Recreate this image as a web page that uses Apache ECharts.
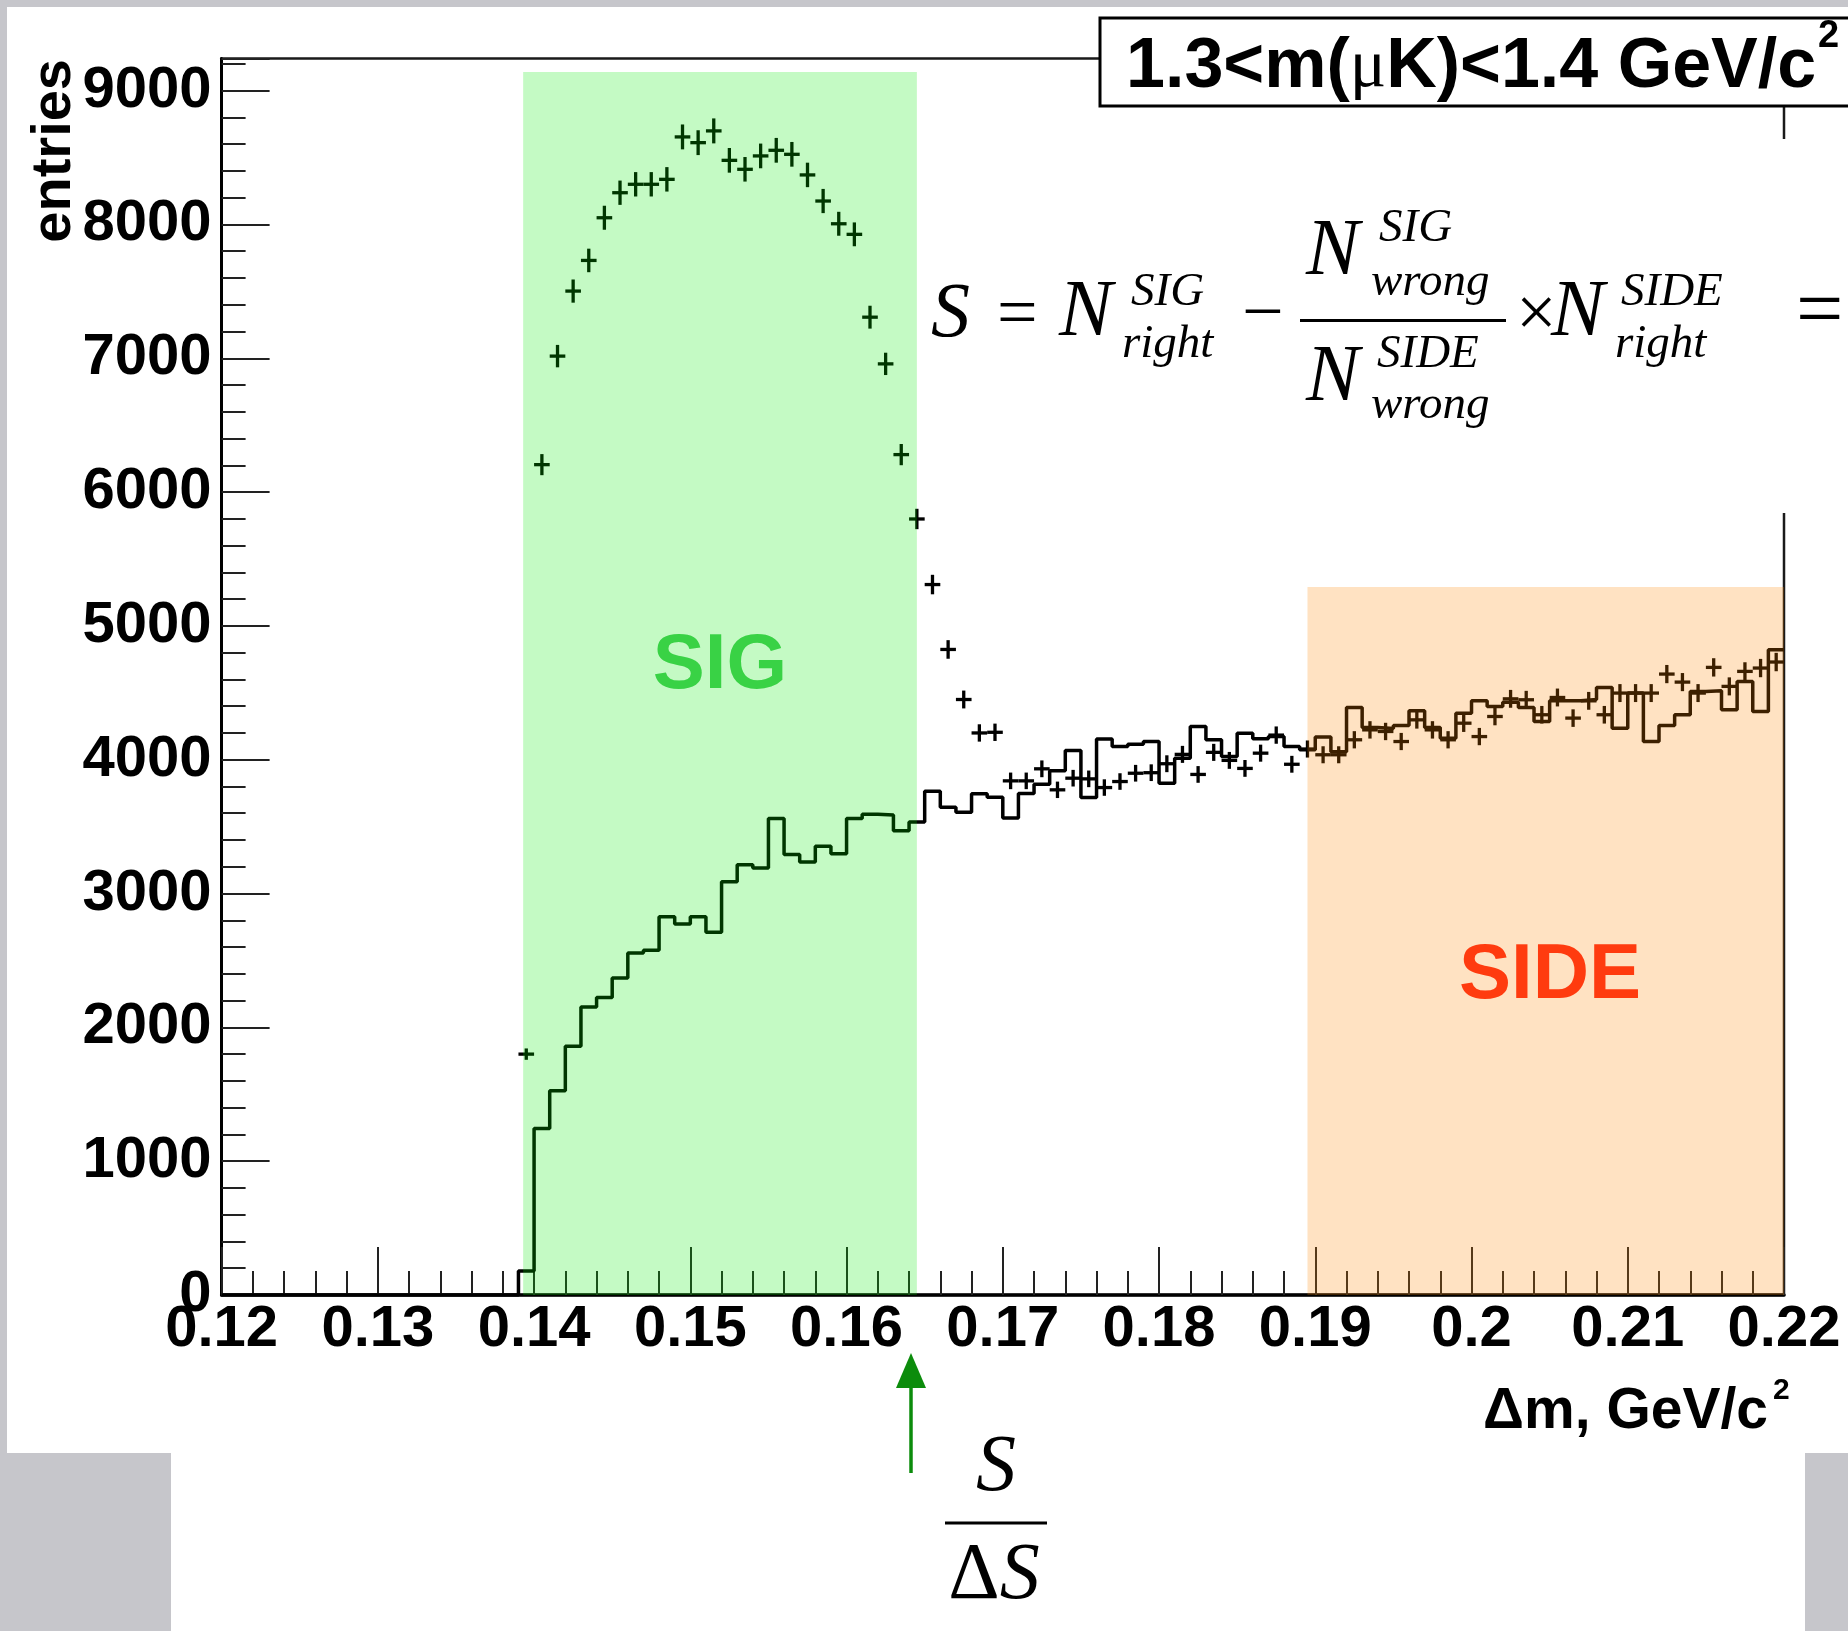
<!DOCTYPE html>
<html>
<head>
<meta charset="utf-8">
<script src="https://cdn.jsdelivr.net/npm/echarts@6/dist/echarts.min.js"></script>
<style>
  html, body { margin: 0; padding: 0; background: #ffffff; }
  #chart { width: 1848px; height: 1631px; }
</style>
</head>
<body>
<div id="chart"></div>
<script>
// Δm histogram binning: 100 bins of 1 MeV between 0.12 and 0.22 GeV/c²
const xMin = 0.12;
const xMax = 0.22;
const binWidth = 0.001;
const yMax = 9240;
const xTickStep = 0.01;
const yTickStep = 1000;
const yMinorStep = 200;

// wrong-sign combinations (solid histogram), one value per bin
const wrongSign = [
  0, 0, 0, 0, 0, 0, 0, 0, 0, 0,
  0, 0, 0, 0, 0, 0, 0, 0, 0, 180,
  1245, 1527, 1858, 2152, 2224, 2369, 2555, 2577, 2827, 2772,
  2827, 2710, 3088, 3215, 3190, 3561, 3292, 3236, 3354, 3298,
  3561, 3592, 3586, 3470, 3535, 3765, 3645, 3608, 3745, 3720,
  3565, 3747, 3817, 3917, 4069, 3717, 4154, 4099, 4116, 4136,
  3824, 4011, 4248, 4149, 4024, 4198, 4156, 4173, 4099, 4074,
  4170, 4060, 4390, 4241, 4233, 4256, 4366, 4241, 4161, 4348,
  4440, 4398, 4430, 4390, 4286, 4440, 4440, 4450, 4540, 4236,
  4498, 4136, 4256, 4336, 4510, 4515, 4373, 4585, 4361, 4822
];

// right-sign combinations (points with errors), one value per bin
const rightSign = [
  0, 0, 0, 0, 0, 0, 0, 0, 0, 0,
  0, 0, 0, 0, 0, 0, 0, 0, 0, 1800,
  6205, 7016, 7502, 7731, 8050, 8237, 8300, 8300, 8337, 8654,
  8611, 8699, 8479, 8412, 8512, 8554, 8524, 8370, 8175, 8005,
  7926, 7307, 6958, 6280, 5799, 5309, 4824, 4450, 4200, 4205,
  3842, 3842, 3932, 3775, 3862, 3857, 3792, 3837, 3899, 3903,
  3970, 4040, 3890, 4055, 3995, 3935, 4049, 4184, 3966, 4080,
  4037, 4037, 4149, 4223, 4211, 4136, 4298, 4223, 4149, 4273,
  4173, 4323, 4455, 4448, 4336, 4465, 4311, 4440, 4336, 4498,
  4498, 4498, 4640, 4580, 4498, 4690, 4548, 4660, 4685, 4730
];

// selection windows: [from, to, height]
const sigWindow = [0.1393, 0.1645, 9140];
const sideWindow = [0.1895, 0.22, 5290];

const SANS = '"Liberation Sans", Arial, Helvetica, sans-serif';
const SERIF = '"Liberation Serif", "Times New Roman", serif';

// histogram outline: left edge of each bin, plus the closing right edge
const histData = wrongSign.map((v, k) => [xMin + k * binWidth, v]);
histData.push([xMax, wrongSign[wrongSign.length - 1]]);

// points at bin centres, empty bins are not drawn
const pointData = [];
rightSign.forEach((v, k) => { if (v > 0) pointData.push([xMin + (k + 0.5) * binWidth, v]); });

const windowData = [
  { value: sigWindow, fill: 'rgba(0,235,0,0.23)' },
  { value: sideWindow, fill: 'rgba(255,135,0,0.24)' }
];

// text helper: x = left/centre/right per align, baseline given in pixels
function txt(text, x, baseline, size, opt) {
  opt = opt || {};
  const style = {
    text: text,
    font: (opt.style || '') + ' ' + (opt.weight || 'normal') + ' ' + size + 'px ' + (opt.family || SANS),
    fill: opt.color || '#000',
    align: opt.align || 'left',
    verticalAlign: 'middle'
  };
  if (opt.rich) style.rich = opt.rich;
  return { type: 'text', z: 100, x: x, y: baseline - 0.345 * size, style: style };
}
function it(text, x, baseline, size, align) {
  return txt(text, x, baseline, size, { style: 'italic', family: SERIF, align: align });
}
function hline(x1, x2, y, w, color) {
  return { type: 'line', z: 100, shape: { x1: x1, y1: y, x2: x2, y2: y }, style: { stroke: color || '#000', lineWidth: w } };
}

const grey = '#c6c6cb';
const graphics = [
  // page surround
  { type: 'rect', z: -10, shape: { x: 0, y: 0, width: 1848, height: 7 }, style: { fill: grey } },
  { type: 'rect', z: -10, shape: { x: 0, y: 0, width: 7, height: 1453 }, style: { fill: grey } },
  { type: 'rect', z: -10, shape: { x: 0, y: 1453, width: 171, height: 178 }, style: { fill: grey } },
  { type: 'rect', z: -10, shape: { x: 1805, y: 1453, width: 43, height: 178 }, style: { fill: grey } },

  // blank strip behind the formula
  { type: 'rect', z: 50, shape: { x: 1772, y: 139, width: 30, height: 374 }, style: { fill: '#fff' } },

  // mass window box
  { type: 'rect', z: 60, shape: { x: 1100, y: 18, width: 760, height: 88 }, style: { fill: '#fff', stroke: '#000', lineWidth: 3 } },
  txt('{a|1.3<m(}{m|\u03bc}{a|K)<1.4 GeV/c}', 1126, 92, 70, {
    weight: 'bold',
    rich: {
      a: { fontFamily: SANS, fontWeight: 'bold', fontSize: 70, fill: '#000' },
      m: { fontFamily: SERIF, fontWeight: 'normal', fontSize: 68, fill: '#000' }
    }
  }),
  txt('2', 1818, 50, 38, { weight: 'bold' }),

  // region labels
  txt('SIG', 720, 693, 78, { weight: 'bold', align: 'center', color: '#39d245' }),
  txt('SIDE', 1550, 1003, 78, { weight: 'bold', align: 'center', color: '#ff3b0f' }),

  // axis titles
  {
    type: 'text', z: 100, x: 55, y: 59, rotation: Math.PI / 2,
    style: { text: 'entries', font: 'bold 56px ' + SANS, fill: '#000', align: 'right', verticalAlign: 'middle' }
  },
  txt('\u0394m, GeV/c', 1768, 1432, 57, { weight: 'bold', align: 'right' }),
  txt('2', 1773, 1401, 30, { weight: 'bold' }),

  // S = N_right^SIG - N_wrong^SIG / N_wrong^SIDE x N_right^SIDE =
  it('S', 931, 342, 78),
  txt('=', 997, 342, 72, { family: SERIF }),
  it('N', 1059, 342, 80),
  it('SIG', 1131, 309, 47),
  it('right', 1122, 361, 47),
  txt('\u2212', 1242, 342, 74, { family: SERIF }),
  it('N', 1306, 281, 80),
  it('SIG', 1379, 245, 47),
  it('wrong', 1371, 299, 47),
  hline(1300, 1506, 320.5, 3),
  it('N', 1306, 407, 80),
  it('SIDE', 1377, 371, 47),
  it('wrong', 1371, 422, 47),
  txt('\u00d7', 1516, 342, 72, { family: SERIF }),
  it('N', 1551, 342, 80),
  it('SIDE', 1621, 309, 47),
  it('right', 1615, 361, 47),
  txt('=', 1796, 344, 84, { family: SERIF }),

  // arrow marking the optimal cut
  { type: 'line', z: 100, shape: { x1: 911, y1: 1473, x2: 911, y2: 1384 }, style: { stroke: '#0c8c0c', lineWidth: 3.5 } },
  { type: 'polygon', z: 100, shape: { points: [[911, 1353], [896, 1388], [926, 1388]] }, style: { fill: '#0c8c0c' } },

  // S / ΔS
  it('S', 996, 1497, 80, 'center'),
  hline(945, 1047, 1523, 3),
  txt('{d|\u0394}{s|S}', 994, 1605, 80, {
    align: 'center', family: SERIF,
    rich: {
      d: { fontFamily: SERIF, fontStyle: 'normal', fontSize: 80, fill: '#000' },
      s: { fontFamily: SERIF, fontStyle: 'italic', fontSize: 80, fill: '#000' }
    }
  })
];

const labelFont = { fontFamily: SANS, fontWeight: 'bold', fontSize: 58, color: '#000' };

const chart = echarts.init(document.getElementById('chart'), null, { renderer: 'canvas' });
chart.setOption({
  animation: false,
  backgroundColor: '#ffffff',
  grid: {
    left: 221.6, right: 64, top: 58.5, bottom: 336,
    show: true, borderColor: '#1a1a1a', borderWidth: 2.5, backgroundColor: 'transparent'
  },
  xAxis: {
    type: 'value', min: xMin, max: xMax, interval: xTickStep,
    axisLine: { show: true, onZero: false, lineStyle: { color: '#000', width: 3.5 } },
    axisTick: { show: true, inside: true, length: 48, lineStyle: { color: '#222', width: 2 } },
    minorTick: { show: true, splitNumber: 5, length: 24, lineStyle: { color: '#222', width: 2 } },
    splitLine: { show: false },
    axisLabel: Object.assign({}, labelFont, {
      margin: 6, showMinLabel: true, showMaxLabel: true,
      formatter: v => String(parseFloat(v.toFixed(3)))
    })
  },
  yAxis: [
    {
      type: 'value', min: 0, max: yMax, interval: yTickStep,
      axisLine: { show: true, lineStyle: { color: '#000', width: 3 } },
      axisTick: { show: true, inside: true, length: 48, lineStyle: { color: '#222', width: 2 } },
      splitLine: { show: false },
      axisLabel: Object.assign({}, labelFont, {
        margin: 10, showMaxLabel: true,
        formatter: v => (v % yTickStep === 0 ? String(v) : '')
      })
    },
    {
      type: 'value', min: 0, max: yMax, interval: yMinorStep, position: 'left',
      axisLine: { show: false },
      axisTick: { show: true, inside: true, length: 24, lineStyle: { color: '#222', width: 2 } },
      splitLine: { show: false },
      axisLabel: { show: false }
    }
  ],
  series: [
    {
      name: 'wrong sign', type: 'line', step: 'end', data: histData,
      symbol: 'none', z: 2, clip: true,
      lineStyle: { color: '#000', width: 3.5 }
    },
    {
      name: 'right sign', type: 'custom', data: pointData, z: 2,
      encode: { x: 0, y: 1 },
      renderItem: function (params, api) {
        const x = api.value(0), v = api.value(1), e = Math.sqrt(v);
        const l = api.coord([x - binWidth / 2, v]);
        const r = api.coord([x + binWidth / 2, v]);
        const t = api.coord([x, v + e]);
        const b = api.coord([x, v - e]);
        const st = { stroke: '#000', lineWidth: 3.3 };
        return {
          type: 'group', children: [
            { type: 'line', shape: { x1: l[0], y1: l[1], x2: r[0], y2: r[1] }, style: st },
            { type: 'line', shape: { x1: t[0], y1: t[1], x2: b[0], y2: b[1] }, style: st }
          ]
        };
      }
    },
    {
      name: 'windows', type: 'custom', z: 5,
      data: windowData,
      encode: { x: [0, 1], y: 2 },
      renderItem: function (params, api) {
        const p0 = api.coord([api.value(0), api.value(2)]);
        const p1 = api.coord([api.value(1), 0]);
        return {
          type: 'rect',
          shape: { x: p0[0], y: p0[1], width: p1[0] - p0[0], height: p1[1] - p0[1] },
          style: { fill: windowData[params.dataIndex].fill }
        };
      }
    }
  ],
  graphic: { elements: graphics }
});
</script>
</body>
</html>
